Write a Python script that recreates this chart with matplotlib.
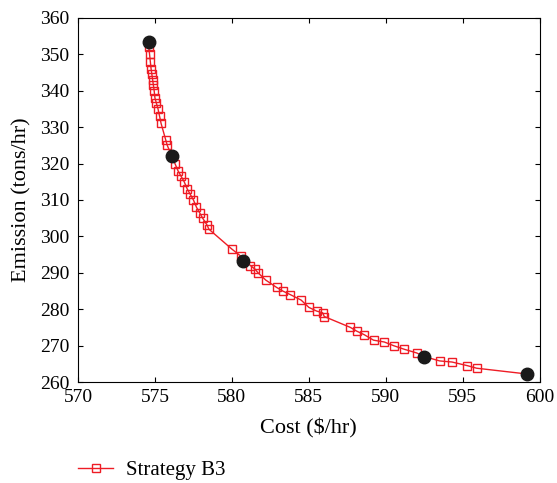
import numpy as np
import matplotlib.pyplot as plt

plt.rcParams.update({
    "font.family": "Liberation Serif",
    "font.size": 14,
    "xtick.direction": "in",
    "ytick.direction": "in",
    "xtick.top": True,
    "ytick.right": True,
    "xtick.major.pad": 5,
    "ytick.major.pad": 6,
})

# Pareto front, strategy B3
cost_b3 = [574.6, 574.65, 574.7, 574.75, 574.8, 574.85, 574.9, 574.95, 575.0, 575.1,
           575.2, 575.3, 575.4, 575.7, 575.8, 576.1, 576.3, 576.5, 576.7, 576.9,
           577.1, 577.3, 577.5, 577.7, 577.9, 578.1, 578.4, 578.5, 580.0, 580.6,
           581.2, 581.5, 581.7, 582.2, 582.9, 583.3, 583.8, 584.5, 585.0, 585.5,
           585.9, 586.0, 587.7, 588.1, 588.6, 589.2, 589.9, 590.5, 591.2, 592.0,
           592.5, 593.5, 594.3, 595.3, 595.9, 599.2]
emis_b3 = [352.0, 350.0, 348.0, 346.0, 344.5, 343.0, 341.5, 340.0, 338.0, 336.5,
           335.0, 333.0, 331.0, 326.5, 325.0, 322.0, 320.0, 318.0, 316.5, 315.0,
           313.0, 311.5, 310.0, 308.0, 306.5, 305.0, 303.0, 302.0, 296.5, 294.5,
           292.0, 291.0, 290.0, 288.0, 286.0, 285.0, 284.0, 282.5, 280.5, 279.5,
           279.0, 278.0, 275.0, 274.0, 273.0, 271.5, 271.0, 270.0, 269.0, 268.0,
           267.0, 265.8, 265.5, 264.5, 263.8, 262.2]

# highlighted solutions
cost_sel = [574.6, 576.1, 580.7, 592.5, 599.2]
emis_sel = [353.3, 322.2, 293.3, 266.9, 262.2]

fig = plt.figure(figsize=(5.57, 4.83), dpi=100)
ax = fig.add_axes([0.140, 0.209, 0.829, 0.754])

line, = ax.plot(cost_b3, emis_b3, color="#ee1c25", lw=1.0, marker="s", ms=6,
                mfc="none", mec="#ee1c25", mew=1.0, label="Strategy B3")
ax.plot(cost_sel, emis_sel, "o", color="#1a1a1a", ms=9, zorder=5)

ax.set_xlim(570, 600)
ax.set_ylim(260, 360)
ax.set_xticks(np.arange(570, 601, 5))
ax.set_yticks(np.arange(260, 361, 10))
ax.set_xlabel("Cost ($/hr)", fontsize=16, labelpad=9)
ax.set_ylabel("Emission (tons/hr)", fontsize=16, labelpad=6)
ax.grid(False)

fig.legend(handles=[line], loc="center left", bbox_to_anchor=(0.14, 0.026),
           frameon=False, fontsize=15, handlelength=1.7, handletextpad=0.6,
           borderpad=0, borderaxespad=0)

fig.savefig("out.png", dpi=100)
